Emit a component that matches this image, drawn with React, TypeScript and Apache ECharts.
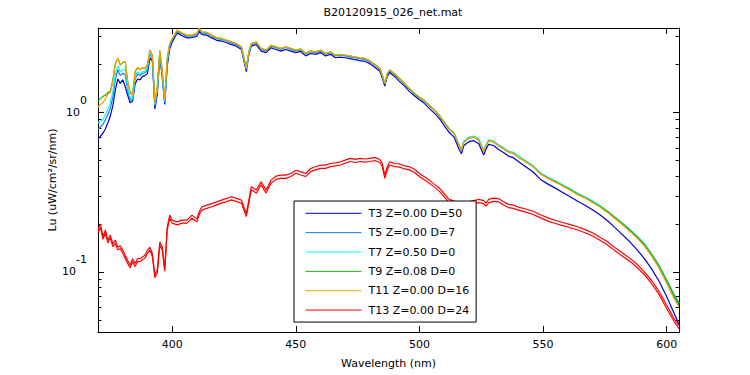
import { useEffect, useRef } from "react";
import * as echarts from "echarts";

const wavelengths = [
  370, 371, 372, 373, 374, 375, 376, 377, 378, 379,
  380, 381, 382, 383, 384, 385, 386, 387, 388, 389,
  390, 391, 392, 393, 394, 395, 396, 397, 398, 399,
  400, 402, 404, 406, 408, 410, 411, 412, 414, 416,
  418, 420, 422, 424, 426, 428, 430, 431, 432, 434,
  436, 438, 440, 442, 444, 446, 448, 450, 452, 454,
  456, 458, 460, 462, 464, 466, 468, 470, 472, 474,
  476, 478, 480, 482, 484, 485, 486, 487, 488, 490,
  492, 494, 496, 498, 500, 502, 504, 506, 508, 510,
  512, 514, 516, 517, 518, 520, 522, 524, 526, 527,
  528, 530, 532, 534, 536, 538, 540, 543, 546, 549,
  552, 555, 558, 561, 564, 567, 570, 573, 576, 579,
  582, 585, 588, 591, 594, 597, 600, 603, 605,
];

const t3 = [
  0.68, 0.71, 0.74, 0.79, 0.86, 0.95, 1.10, 1.38, 1.62, 1.52,
  1.60, 1.45, 1.28, 1.15, 1.18, 1.50, 1.62, 1.60, 1.68, 1.70,
  1.75, 2.20, 2.10, 1.05, 1.30, 2.25, 1.65, 1.12, 1.95, 2.50,
  2.75, 3.15, 3.02, 2.93, 2.94, 3.00, 3.22, 3.07, 3.05, 2.93,
  2.83, 2.80, 2.73, 2.66, 2.60, 2.48, 1.80, 2.30, 2.60, 2.66,
  2.42, 2.37, 2.54, 2.48, 2.42, 2.48, 2.42, 2.37, 2.41, 2.26,
  2.34, 2.31, 2.37, 2.26, 2.31, 2.20, 2.22, 2.20, 2.17, 2.14,
  2.11, 2.09, 2.02, 1.92, 1.81, 1.64, 1.46, 1.68, 1.78, 1.68,
  1.56, 1.46, 1.35, 1.27, 1.20, 1.14, 1.06, 0.99, 0.92, 0.83,
  0.75, 0.70, 0.59, 0.55, 0.62, 0.655, 0.665, 0.635, 0.54, 0.59,
  0.63, 0.62, 0.585, 0.56, 0.532, 0.52, 0.492, 0.456, 0.423, 0.38,
  0.355, 0.335, 0.315, 0.296, 0.277, 0.262, 0.245, 0.228, 0.21, 0.19,
  0.172, 0.155, 0.138, 0.121, 0.104, 0.087, 0.07, 0.055, 0.047,
];

const t5 = [
  0.78, 0.81, 0.84, 0.90, 0.97, 1.06, 1.25, 1.60, 1.85, 1.70,
  1.76, 1.72, 1.38, 1.20, 1.20, 1.62, 1.74, 1.70, 1.76, 1.77,
  1.86, 2.32, 2.17, 1.10, 1.37, 2.35, 1.72, 1.15, 2.05, 2.60,
  2.84, 3.22, 3.10, 3.00, 3.00, 3.08, 3.30, 3.15, 3.13, 3.00,
  2.90, 2.87, 2.80, 2.72, 2.66, 2.54, 1.86, 2.36, 2.66, 2.73,
  2.48, 2.43, 2.60, 2.54, 2.48, 2.55, 2.48, 2.43, 2.47, 2.32,
  2.40, 2.37, 2.43, 2.32, 2.37, 2.26, 2.28, 2.26, 2.23, 2.20,
  2.17, 2.15, 2.08, 1.98, 1.87, 1.69, 1.50, 1.73, 1.83, 1.73,
  1.62, 1.51, 1.40, 1.31, 1.24, 1.18, 1.11, 1.04, 0.96, 0.87,
  0.79, 0.74, 0.625, 0.585, 0.655, 0.695, 0.705, 0.675, 0.575, 0.625,
  0.668, 0.658, 0.623, 0.597, 0.569, 0.558, 0.53, 0.493, 0.459, 0.414,
  0.389, 0.369, 0.349, 0.329, 0.309, 0.294, 0.276, 0.259, 0.239, 0.219,
  0.201, 0.183, 0.166, 0.148, 0.127, 0.107, 0.087, 0.07, 0.062,
];

const t7 = [
  0.86, 0.88, 0.90, 0.97, 1.05, 1.15, 1.35, 1.75, 1.95, 1.80,
  1.85, 1.85, 1.42, 1.24, 1.22, 1.68, 1.80, 1.75, 1.80, 1.80,
  1.92, 2.35, 2.20, 1.12, 1.40, 2.38, 1.75, 1.17, 2.10, 2.65,
  2.88, 3.25, 3.13, 3.03, 3.03, 3.11, 3.34, 3.18, 3.16, 3.03,
  2.92, 2.89, 2.82, 2.76, 2.69, 2.57, 1.88, 2.39, 2.69, 2.76,
  2.51, 2.45, 2.63, 2.57, 2.51, 2.57, 2.51, 2.45, 2.49, 2.34,
  2.42, 2.39, 2.45, 2.34, 2.39, 2.28, 2.30, 2.28, 2.25, 2.22,
  2.19, 2.17, 2.10, 2.00, 1.89, 1.71, 1.52, 1.75, 1.85, 1.75,
  1.63, 1.52, 1.41, 1.32, 1.25, 1.19, 1.11, 1.04, 0.965, 0.875,
  0.795, 0.745, 0.63, 0.59, 0.66, 0.70, 0.71, 0.68, 0.58, 0.63,
  0.672, 0.661, 0.627, 0.601, 0.573, 0.562, 0.534, 0.497, 0.463, 0.417,
  0.391, 0.371, 0.351, 0.331, 0.311, 0.296, 0.278, 0.261, 0.241, 0.221,
  0.203, 0.185, 0.168, 0.15, 0.129, 0.109, 0.089, 0.072, 0.064,
];

const t9 = [
  1.18, 1.22, 1.26, 1.28, 1.33, 1.36, 1.60, 2.02, 2.18, 1.98,
  2.05, 2.08, 1.56, 1.34, 1.30, 1.80, 1.90, 1.85, 1.90, 1.88,
  2.00, 2.45, 2.28, 1.15, 1.45, 2.44, 1.80, 1.21, 2.18, 2.68,
  2.88, 3.26, 3.13, 3.04, 3.04, 3.12, 3.35, 3.19, 3.17, 3.04,
  2.93, 2.90, 2.83, 2.76, 2.69, 2.57, 1.90, 2.39, 2.69, 2.76,
  2.51, 2.45, 2.63, 2.57, 2.51, 2.57, 2.51, 2.45, 2.49, 2.34,
  2.42, 2.39, 2.45, 2.34, 2.39, 2.28, 2.30, 2.28, 2.25, 2.22,
  2.19, 2.17, 2.09, 1.99, 1.88, 1.70, 1.51, 1.74, 1.84, 1.74,
  1.62, 1.51, 1.40, 1.31, 1.24, 1.18, 1.10, 1.03, 0.955, 0.868,
  0.788, 0.737, 0.62, 0.58, 0.65, 0.688, 0.70, 0.668, 0.568, 0.618,
  0.662, 0.652, 0.618, 0.592, 0.564, 0.553, 0.526, 0.49, 0.457, 0.412,
  0.388, 0.368, 0.348, 0.328, 0.308, 0.293, 0.275, 0.258, 0.24, 0.22,
  0.202, 0.184, 0.167, 0.149, 0.129, 0.109, 0.089, 0.072, 0.064,
];

const t11 = [
  1.08, 1.12, 1.15, 1.22, 1.30, 1.33, 1.55, 2.00, 2.20, 1.98,
  2.05, 2.10, 1.55, 1.32, 1.28, 1.80, 1.92, 1.85, 1.90, 1.88,
  2.00, 2.45, 2.30, 1.15, 1.45, 2.45, 1.80, 1.20, 2.20, 2.70,
  2.90, 3.28, 3.15, 3.05, 3.05, 3.13, 3.37, 3.20, 3.18, 3.05,
  2.94, 2.91, 2.84, 2.77, 2.70, 2.58, 1.89, 2.40, 2.70, 2.77,
  2.52, 2.46, 2.64, 2.58, 2.52, 2.58, 2.52, 2.46, 2.50, 2.35,
  2.43, 2.40, 2.46, 2.35, 2.40, 2.29, 2.31, 2.29, 2.26, 2.23,
  2.20, 2.18, 2.10, 2.00, 1.89, 1.71, 1.52, 1.75, 1.85, 1.75,
  1.63, 1.52, 1.41, 1.32, 1.25, 1.19, 1.11, 1.04, 0.96, 0.87,
  0.79, 0.74, 0.62, 0.58, 0.65, 0.69, 0.70, 0.67, 0.57, 0.62,
  0.665, 0.654, 0.62, 0.594, 0.566, 0.555, 0.527, 0.49, 0.456, 0.41,
  0.385, 0.365, 0.345, 0.325, 0.305, 0.29, 0.272, 0.255, 0.236, 0.216,
  0.198, 0.18, 0.163, 0.145, 0.125, 0.105, 0.085, 0.068, 0.06,
];

const t13a = [
  0.183, 0.200, 0.166, 0.183, 0.158, 0.170, 0.150, 0.158, 0.143, 0.146,
  0.137, 0.127, 0.118, 0.110, 0.121, 0.113, 0.121, 0.121, 0.124, 0.127,
  0.137, 0.143, 0.130, 0.096, 0.103, 0.154, 0.143, 0.105, 0.191, 0.227,
  0.211, 0.206, 0.211, 0.211, 0.227, 0.215, 0.24, 0.255, 0.262, 0.268,
  0.275, 0.282, 0.289, 0.296, 0.289, 0.282, 0.232, 0.282, 0.342, 0.326,
  0.367, 0.326, 0.376, 0.398, 0.404, 0.404, 0.414, 0.434, 0.424, 0.414,
  0.445, 0.456, 0.467, 0.467, 0.478, 0.483, 0.49, 0.502, 0.515, 0.507,
  0.515, 0.51, 0.515, 0.522, 0.507, 0.478, 0.404, 0.456, 0.49, 0.478,
  0.475, 0.462, 0.456, 0.44, 0.414, 0.395, 0.376, 0.355, 0.336, 0.31,
  0.285, 0.278, 0.27, 0.245, 0.265, 0.275, 0.28, 0.285, 0.28, 0.27,
  0.285, 0.29, 0.288, 0.275, 0.265, 0.262, 0.255, 0.248, 0.24, 0.228,
  0.218, 0.21, 0.204, 0.198, 0.192, 0.184, 0.176, 0.165, 0.155, 0.142,
  0.132, 0.122, 0.112, 0.1, 0.088, 0.075, 0.062, 0.051, 0.046,
];

const t13b = [
  0.176, 0.19, 0.16, 0.175, 0.152, 0.163, 0.144, 0.151, 0.137, 0.14,
  0.131, 0.122, 0.113, 0.106, 0.116, 0.108, 0.116, 0.116, 0.119, 0.122,
  0.131, 0.137, 0.125, 0.092, 0.099, 0.147, 0.137, 0.101, 0.183, 0.217,
  0.202, 0.197, 0.202, 0.202, 0.217, 0.206, 0.23, 0.244, 0.25, 0.256,
  0.263, 0.27, 0.276, 0.283, 0.276, 0.27, 0.222, 0.27, 0.327, 0.312,
  0.351, 0.312, 0.36, 0.38, 0.386, 0.386, 0.396, 0.415, 0.405, 0.396,
  0.425, 0.436, 0.446, 0.446, 0.457, 0.462, 0.468, 0.48, 0.492, 0.485,
  0.492, 0.488, 0.492, 0.499, 0.485, 0.457, 0.386, 0.436, 0.468, 0.457,
  0.454, 0.442, 0.436, 0.42, 0.396, 0.378, 0.36, 0.34, 0.321, 0.296,
  0.272, 0.266, 0.258, 0.234, 0.253, 0.263, 0.268, 0.272, 0.268, 0.258,
  0.272, 0.277, 0.275, 0.263, 0.253, 0.25, 0.244, 0.237, 0.229, 0.218,
  0.208, 0.201, 0.195, 0.189, 0.183, 0.176, 0.168, 0.158, 0.148, 0.136,
  0.126, 0.117, 0.107, 0.096, 0.084, 0.072, 0.059, 0.049, 0.044,
];

const seriesNames = [
  "T3 Z=0.00 D=50",
  "T5 Z=0.00 D=7",
  "T7 Z=0.50 D=0",
  "T9 Z=0.08 D=0",
  "T11 Z=0.00 D=16",
  "T13 Z=0.00 D=24",
];
const seriesColors = ["#0000D2", "#1E78E6", "#00FFFF", "#14B414", "#FFA000", "#FF0000"];

const xTickValues = [400, 450, 500, 550, 600];
const yMajorTicks = [0.1, 1];
const yMinorTicks = [0.05, 0.06, 0.07, 0.08, 0.09, 0.2, 0.3, 0.4, 0.5, 0.6, 0.7, 0.8, 0.9, 2, 3];

const X_MIN = 370;
const X_MAX = 605;
const Y_MIN = 0.042;
const Y_MAX = 3.38;

const FONT = "DejaVu Sans";

function pairs(ys: number[]) {
  return wavelengths.map((w, i) => [w, ys[i]]);
}

export default function App() {
  const ref = useRef<HTMLDivElement>(null);

  useEffect(() => {
    if (!ref.current) return;
    const chart = echarts.init(ref.current, null, { renderer: "svg" });

    const lineData = [t3, t5, t7, t9, t11, t13a, t13b];
    const names = [...seriesNames, seriesNames[5]];
    const colors = [...seriesColors, seriesColors[5]];

    const baseX = {
      type: "value" as const,
      min: X_MIN,
      max: X_MAX,
      splitLine: { show: false },
      axisLine: { show: true, onZero: false, lineStyle: { color: "#000", width: 1 } },
    };
    const baseY = {
      type: "log" as const,
      min: Y_MIN,
      max: Y_MAX,
      logBase: 10,
      splitLine: { show: false },
      minorTick: { show: false },
      minorSplitLine: { show: false },
    };

    chart.setOption({
      animation: false,
      backgroundColor: "#fff",
      title: {
        text: "B20120915_026_net.mat",
        left: 388,
        top: 2,
        textAlign: "center",
        textStyle: { fontFamily: FONT, fontSize: 11, fontWeight: "normal", color: "#000" },
      },
      grid: { left: 98, top: 28, width: 581, height: 304, containLabel: false, outerBoundsMode: "none", show: false },
      legend: {
        orient: "vertical",
        left: 294,
        top: 201,
        data: seriesNames,
        selectedMode: false,
        itemWidth: 56,
        itemHeight: 13,
        itemGap: 6.35,
        padding: [5.8, 7, 5.5, 11],
        borderColor: "#000",
        borderWidth: 1,
        borderRadius: 0,
        backgroundColor: "#fff",
        itemStyle: { opacity: 0, borderWidth: 0 },
        lineStyle: { width: 1 },
        textStyle: { fontFamily: FONT, fontSize: 11, color: "#000", padding: [0, 0, 0, 2], lineHeight: 13 },
      },
      xAxis: [
        {
          ...baseX,
          position: "bottom",
          name: "Wavelength (nm)",
          nameLocation: "middle",
          nameGap: 26,
          nameMoveOverlap: false,
          nameTextStyle: { fontFamily: FONT, fontSize: 11, color: "#000" },
          axisTick: { show: true, inside: true, length: 6, customValues: xTickValues, lineStyle: { color: "#000" } },
          axisLabel: { customValues: xTickValues, color: "#000", fontFamily: FONT, fontSize: 11, margin: 7 },
        },
        {
          ...baseX,
          position: "top",
          axisTick: { show: true, inside: true, length: 6, customValues: xTickValues, lineStyle: { color: "#000" } },
          axisLabel: { show: false },
        },
      ],
      yAxis: [
        {
          ...baseY,
          position: "left",
          name: "Lu (uW/cm²/sr/nm)",
          nameLocation: "middle",
          nameGap: 40,
          nameMoveOverlap: false,
          nameTextStyle: { fontFamily: FONT, fontSize: 11, color: "#000" },
          axisLine: { show: true, onZero: false, lineStyle: { color: "#000", width: 1 } },
          axisTick: { show: true, inside: true, length: 6, customValues: yMajorTicks, lineStyle: { color: "#000" } },
          axisLabel: {
            customValues: yMajorTicks,
            margin: 11,
            formatter: (v: number) => `{b|10}{s|${Math.round(Math.log10(v))}}`,
            rich: {
              b: { fontFamily: FONT, fontSize: 11, color: "#000" },
              s: { fontFamily: FONT, fontSize: 11, color: "#000", padding: [0, 0, 24, 0] },
            },
          },
        },
        {
          ...baseY,
          position: "right",
          axisLine: { show: true, onZero: false, lineStyle: { color: "#000", width: 1 } },
          axisTick: { show: true, inside: true, length: 6, customValues: yMajorTicks, lineStyle: { color: "#000" } },
          axisLabel: { show: false },
        },
        {
          ...baseY,
          position: "left",
          axisLine: { show: false },
          axisTick: { show: true, inside: true, length: 3.5, customValues: yMinorTicks, lineStyle: { color: "#000" } },
          axisLabel: { show: false },
        },
        {
          ...baseY,
          position: "right",
          axisLine: { show: false },
          axisTick: { show: true, inside: true, length: 3.5, customValues: yMinorTicks, lineStyle: { color: "#000" } },
          axisLabel: { show: false },
        },
      ],
      series: lineData.map((ys, i) => ({
        type: "line",
        name: names[i],
        xAxisIndex: 0,
        yAxisIndex: 0,
        data: pairs(ys),
        symbol: "none",
        showSymbol: false,
        clip: true,
        color: colors[i],
        itemStyle: { color: colors[i] },
        lineStyle: { color: colors[i], width: 1.2 },
        emphasis: { disabled: true },
        z: 2,
      })),
    });

    return () => {
      chart.dispose();
    };
  }, []);

  return (
    <div
      ref={ref}
      style={{ position: "absolute", left: 0, top: 0, width: 750, height: 375, background: "#fff" }}
    />
  );
}
